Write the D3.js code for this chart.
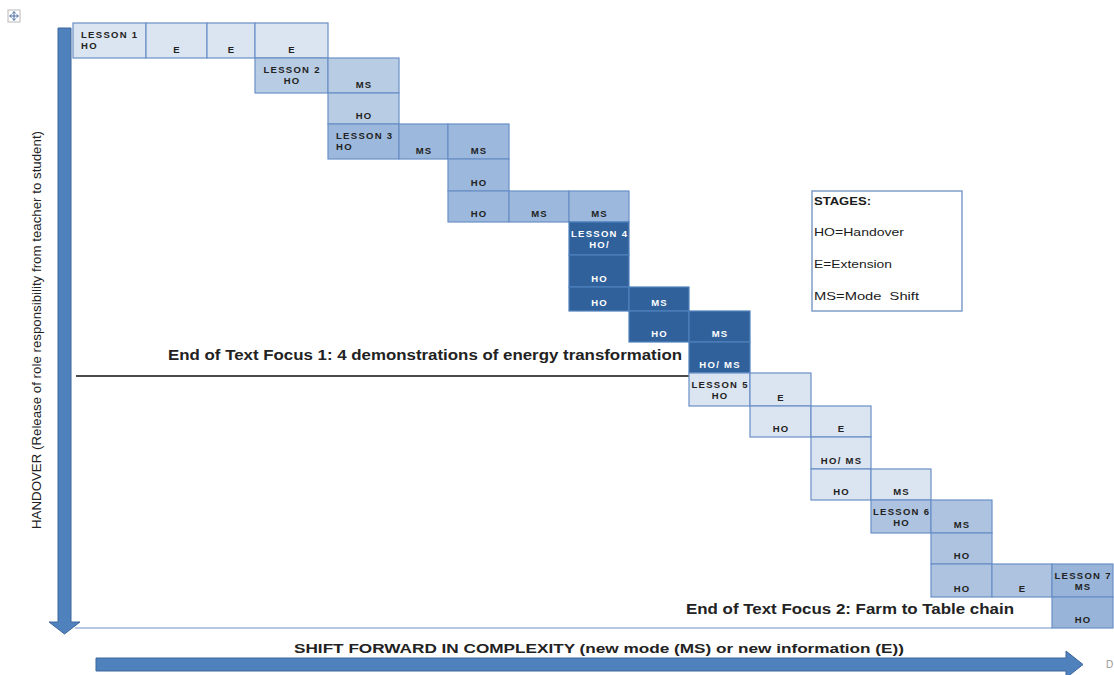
<!DOCTYPE html>
<html>
<head>
<meta charset="utf-8">
<script src="https://cdn.jsdelivr.net/npm/d3@7"></script>
<style>
  html, body { margin: 0; padding: 0; background: #fff; }
  svg { display: block; font-family: "Liberation Sans", Arial, sans-serif; }
  .pre { white-space: pre; }
</style>
</head>
<body>
<div id="chart"></div>
<script>
// 页面大小
const width = 1114, height = 675;

// 每节课的名称
const lessonNames = ["LESSON 1", "LESSON 2", "LESSON 3", "LESSON 4", "LESSON 5", "LESSON 6", "LESSON 7"];

// 表格单元: [课次, 行, 列, 阶段]
const stageCells = [
  [1, 0, 0, "HO"], [1, 0, 1, "E"], [1, 0, 2, "E"], [1, 0, 3, "E"],
  [2, 1, 3, "HO"], [2, 1, 4, "MS"], [2, 2, 4, "HO"],
  [3, 3, 4, "HO"], [3, 3, 5, "MS"], [3, 3, 6, "MS"], [3, 4, 6, "HO"],
  [3, 5, 6, "HO"], [3, 5, 7, "MS"], [3, 5, 8, "MS"],
  [4, 6, 8, "HO/"], [4, 7, 8, "HO"], [4, 8, 8, "HO"], [4, 8, 9, "MS"],
  [4, 9, 9, "HO"], [4, 9, 10, "MS"], [4, 10, 10, "HO/ MS"],
  [5, 11, 10, "HO"], [5, 11, 11, "E"], [5, 12, 11, "HO"], [5, 12, 12, "E"],
  [5, 13, 12, "HO/ MS"], [5, 14, 12, "HO"], [5, 14, 13, "MS"],
  [6, 15, 13, "HO"], [6, 15, 14, "MS"], [6, 16, 14, "HO"], [6, 17, 14, "HO"], [6, 17, 15, "E"],
  [7, 17, 16, "MS"], [7, 18, 16, "HO"]
];

// 图例文字
const stageKey = ["STAGES:", "HO=Handover", "E=Extension", "MS=Mode  Shift"];

// 两段文本焦点的结束说明
const focusNotes = [
  "End of Text Focus 1: 4 demonstrations of energy transformation",
  "End of Text Focus 2: Farm to Table chain"
];

const yTitle = "HANDOVER (Release of role responsibility from teacher to student)";
const xTitle = "SHIFT FORWARD IN COMPLEXITY (new mode (MS) or new information (E))";

// 表格的行列边界（Word 表格行高列宽不一）
const colEdges = [73, 146, 207, 255, 328, 399, 448, 509, 569, 629, 689, 750, 811, 871, 931, 992, 1052, 1113];
const rowEdges = [23, 58, 93, 124, 159, 191, 222, 255, 287, 311, 342, 373, 406, 437, 469, 500, 533, 564, 597, 628];

const x = d3.scaleLinear().domain(d3.range(colEdges.length)).range(colEdges);
const y = d3.scaleLinear().domain(d3.range(rowEdges.length)).range(rowEdges);

// 每节课的底色
const lessonFill = d3.scaleOrdinal()
  .domain([1, 2, 3, 4, 5, 6, 7])
  .range(["#dbe5f1", "#b8cce4", "#9cb8dc", "#30619b", "#dbe5f1", "#adc3e0", "#98b4d9"]);
const leftAligned = new Set([1, 3]);

const svg = d3.select("#chart").append("svg")
  .attr("width", width)
  .attr("height", height);

const defs = svg.append("defs");

// 每节课第一个单元格带课名
const seen = new Set();
const cells = stageCells.map(([lesson, row, col, stage], i) => {
  const first = !seen.has(lesson);
  seen.add(lesson);
  return { id: i, lesson, row, col, lines: first ? [lessonNames[lesson - 1], stage] : [stage] };
});

// 左侧竖箭头
svg.append("path")
  .attr("d", `M58,28 H71 V622 H80 L64.5,634 L49,622 H58 Z`)
  .attr("fill", "#4f81bd")
  .attr("stroke", "#3c669c")
  .attr("stroke-width", 1);

// 表格最底线
svg.append("line")
  .attr("x1", 75).attr("x2", x(16))
  .attr("y1", y(19)).attr("y2", y(19))
  .attr("stroke", "#6a8fc7").attr("stroke-width", 1.2);

// 文本焦点1的分割线
svg.append("line")
  .attr("x1", 76).attr("x2", x(10) + 1)
  .attr("y1", 376).attr("y2", 376)
  .attr("stroke", "#111").attr("stroke-width", 1.3);

const cellG = svg.append("g").selectAll("g")
  .data(cells)
  .join("g");

cells.forEach(d => {
  defs.append("clipPath").attr("id", `clip${d.id}`)
    .append("rect")
    .attr("x", x(d.col) + 0.5).attr("y", y(d.row))
    .attr("width", x(d.col + 1) - x(d.col) - 1)
    .attr("height", y(d.row + 1) - y(d.row));
});

cellG.append("rect")
  .attr("x", d => x(d.col))
  .attr("y", d => y(d.row))
  .attr("width", d => x(d.col + 1) - x(d.col))
  .attr("height", d => y(d.row + 1) - y(d.row))
  .attr("fill", d => lessonFill(d.lesson))
  .attr("stroke", d => d.lesson === 4 ? "#4f81bd" : "#6a8fc7")
  .attr("stroke-width", 1.2);

cellG.each(function(d) {
  const g = d3.select(this);
  const left = leftAligned.has(d.lesson) && d.lines.length > 1;
  const tx = left ? x(d.col) + 8 : (x(d.col) + x(d.col + 1)) / 2 + 0.6;
  const top = y(d.row), bottom = y(d.row + 1);
  const base = d.lines.length > 1 ? [top + 15, top + 26] : [bottom - 5];
  d.lines.forEach((t, k) => {
    g.append("text")
      .attr("clip-path", `url(#clip${d.id})`)
      .attr("x", tx)
      .attr("y", base[k])
      .attr("text-anchor", left ? "start" : "middle")
      .attr("font-size", 9.5)
      .attr("font-weight", "bold")
      .attr("letter-spacing", 1.3)
      .attr("fill", d.lesson === 4 ? "#ffffff" : "#222")
      .text(t);
  });
});

// 焦点说明
svg.append("text")
  .attr("x", 168).attr("y", 360)
  .attr("font-size", 14).attr("font-weight", "bold")
  .attr("fill", "#222")
  .attr("textLength", 514).attr("lengthAdjust", "spacingAndGlyphs")
  .text(focusNotes[0]);

svg.append("text")
  .attr("x", 686).attr("y", 614)
  .attr("font-size", 14).attr("font-weight", "bold")
  .attr("fill", "#222")
  .attr("textLength", 328).attr("lengthAdjust", "spacingAndGlyphs")
  .text(focusNotes[1]);

// 图例
svg.append("rect")
  .attr("x", 812).attr("y", 191)
  .attr("width", 150).attr("height", 120)
  .attr("fill", "#fff")
  .attr("stroke", "#7f9dc9").attr("stroke-width", 1.5);

const keyY = [205, 236, 268, 300];
const keyW = [57, 90, 78, 105];
svg.append("g").selectAll("text")
  .data(stageKey)
  .join("text")
  .attr("class", "pre")
  .attr("x", 814)
  .attr("y", (d, i) => keyY[i])
  .attr("font-size", 10.5)
  .attr("font-weight", (d, i) => i === 0 ? "bold" : "normal")
  .attr("fill", "#1a1a1a")
  .attr("textLength", (d, i) => keyW[i])
  .attr("lengthAdjust", "spacingAndGlyphs")
  .text(d => d);

// 纵轴标题
svg.append("text")
  .attr("transform", "translate(41,330) rotate(-90)")
  .attr("text-anchor", "middle")
  .attr("font-size", 13.5)
  .attr("fill", "#222")
  .attr("textLength", 398).attr("lengthAdjust", "spacingAndGlyphs")
  .text(yTitle);

// 底部横箭头
svg.append("path")
  .attr("d", `M96,658 H1066 V651 L1083,664.5 L1066,678 V671 H96 Z`)
  .attr("fill", "#4f81bd")
  .attr("stroke", "#3c669c")
  .attr("stroke-width", 1);

svg.append("text")
  .attr("x", 294).attr("y", 653)
  .attr("font-size", 13.5).attr("font-weight", "bold")
  .attr("fill", "#222")
  .attr("textLength", 610).attr("lengthAdjust", "spacingAndGlyphs")
  .text(xTitle);

// 左上角表格移动把手
const handle = svg.append("g").attr("transform", "translate(8,10)");
handle.append("rect")
  .attr("width", 12).attr("height", 12)
  .attr("fill", "#fff").attr("stroke", "#b8b8b8");
handle.append("path")
  .attr("d", "M6,2 V10 M2,6 H10 M4.5,3.5 L6,1.5 L7.5,3.5 M4.5,8.5 L6,10.5 L7.5,8.5 M3.5,4.5 L1.5,6 L3.5,7.5 M8.5,4.5 L10.5,6 L8.5,7.5")
  .attr("fill", "none").attr("stroke", "#4a6fa5").attr("stroke-width", 1);

// 右下角被裁掉的字符
svg.append("text")
  .attr("x", 1106).attr("y", 668)
  .attr("font-size", 10).attr("fill", "#999")
  .text("D");
</script>
</body>
</html>
